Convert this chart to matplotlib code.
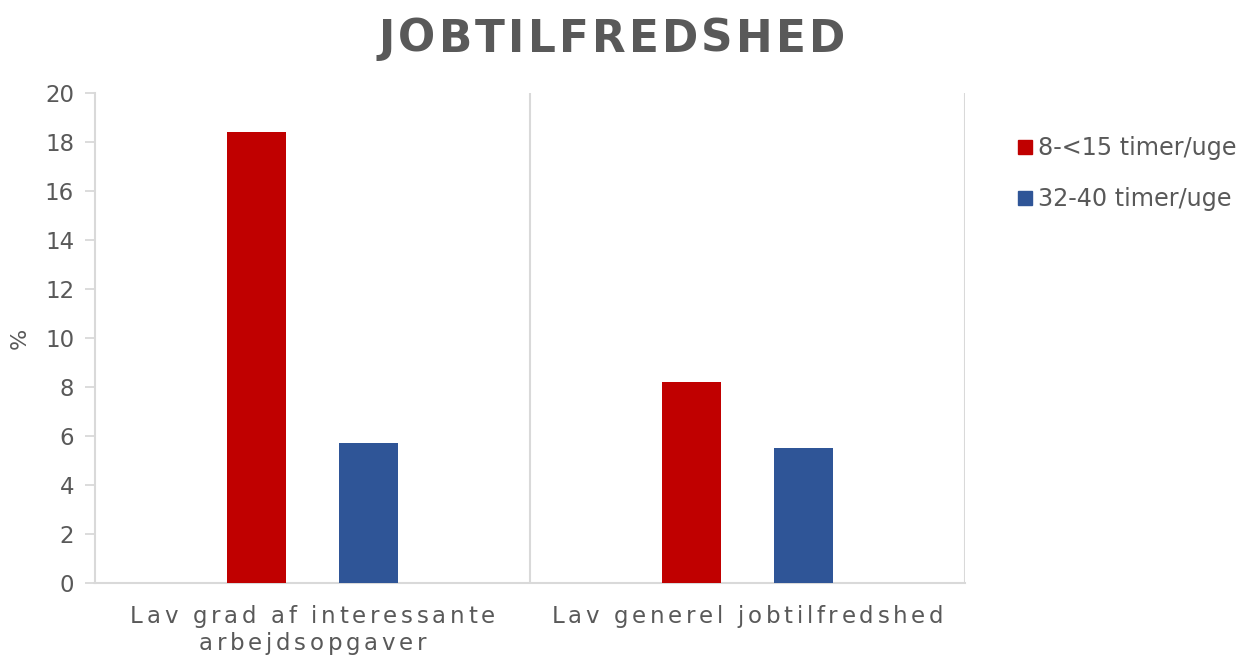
import matplotlib
matplotlib.use("Agg")
import matplotlib.pyplot as plt
from matplotlib.lines import Line2D
from matplotlib.font_manager import FontProperties, findfont
from matplotlib.ft2font import FT2Font

categories = ["Lav grad af interessante\narbejdsopgaver", "Lav generel jobtilfredshed"]
series_names = ["8-<15 timer/uge", "32-40 timer/uge"]
values_8_15 = [18.4, 8.2]
values_32_40 = [5.7, 5.5]
colors = ["#C00000", "#2F5597"]
title = "JOBTILFREDSHED"
ylabel = "%"
yticks = [0, 2, 4, 6, 8, 10, 12, 14, 16, 18, 20]

W, H, DPI = 12.4, 6.55, 100
TXT = "#595959"
GRID = "#D9D9D9"

fig = plt.figure(figsize=(W, H), dpi=DPI)
ax = fig.add_axes([95 / 1240, 72 / 655, 870 / 1240, 490 / 655])

x = list(range(len(categories)))
bw = 0.136
off = 0.129
ax.bar([i - off for i in x], values_8_15, width=bw, color=colors[0], zorder=3)
ax.bar([i + off for i in x], values_32_40, width=bw, color=colors[1], zorder=3)

ax.set_xlim(-0.5, len(categories) - 0.5)
ax.set_ylim(0, 20)
ax.set_yticks(yticks)
ax.set_yticklabels([str(v) for v in yticks])
ax.tick_params(axis="y", colors=GRID, labelcolor=TXT, labelsize=16.5, length=7, width=1.3, pad=8)
ax.set_xticks([])
for s in ["top", "right"]:
    ax.spines[s].set_visible(False)
for s in ["left", "bottom"]:
    ax.spines[s].set_color(GRID)
    ax.spines[s].set_linewidth(1.5)
for b in [i + 0.5 for i in x]:
    ax.axvline(b, color=GRID, lw=1.5, zorder=1)

fig.text(20 / 1240, 1 - 338 / 655, ylabel, rotation=90, ha="center", va="center", color=TXT, fontsize=16)


def spaced_text(xc_px, yc_px, s, size, spacing, weight="normal"):
    prop = FontProperties(family="DejaVu Sans", size=size, weight=weight)
    font = FT2Font(findfont(prop))
    font.set_size(size, DPI)
    adv = [font.load_char(ord(c)).linearHoriAdvance / 65536 for c in s]
    total = sum(adv) + spacing * (len(s) - 1)
    xp = xc_px - total / 2
    for c, a in zip(s, adv):
        if c != " ":
            fig.text(xp / (W * DPI), 1 - yc_px / (H * DPI), c, fontproperties=prop,
                     color=TXT, ha="left", va="baseline")
        xp += a + spacing


spaced_text(612, 52, title, 31.5, 3.2, weight="bold")

# category labels, letter spaced
for i, cat in enumerate(categories):
    xc = ax.transData.transform((i, 0))[0]
    for j, line in enumerate(cat.split("\n")):
        spaced_text(xc, 623 + j * 27, line, 16.5, 3.7)

handles = [Line2D([], [], marker="s", ls="", color=c, markersize=9.5) for c in colors]
leg = fig.legend(handles, series_names, loc="upper left", bbox_to_anchor=(1005 / 1240, 1 - 124 / 655),
                 frameon=False, fontsize=17.2, handlelength=0.7, handletextpad=0.2,
                 labelspacing=1.15, borderpad=0)
for t in leg.get_texts():
    t.set_color(TXT)

fig.savefig("out.png", dpi=DPI)
